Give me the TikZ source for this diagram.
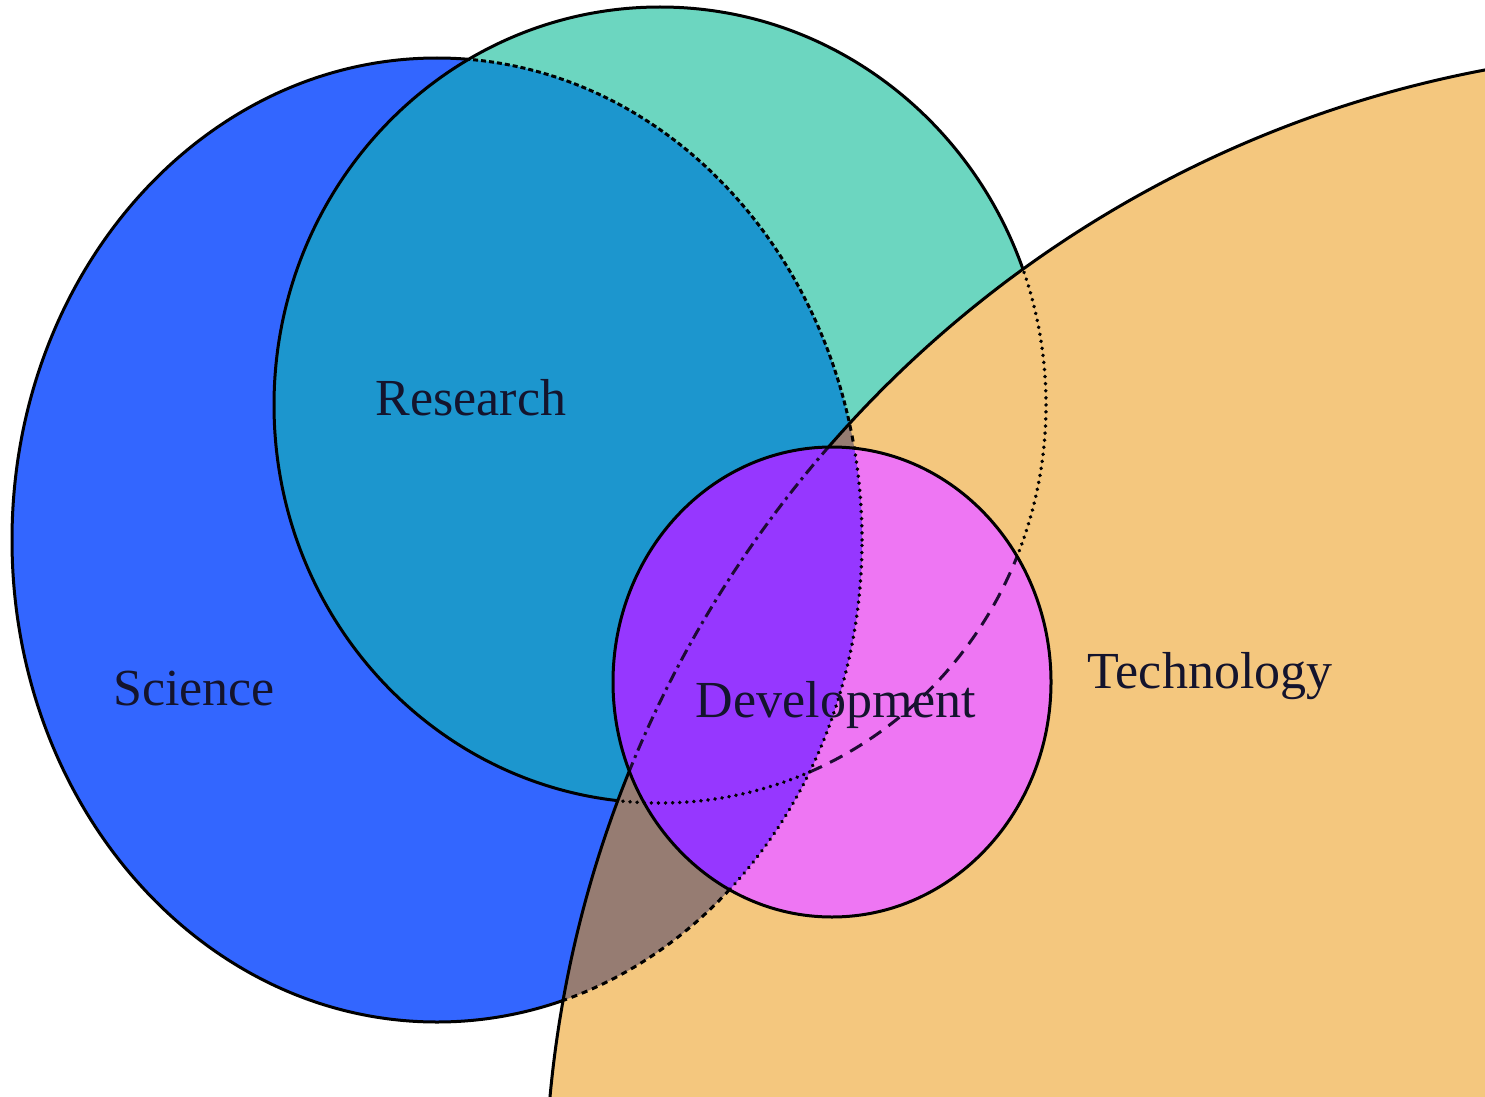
\documentclass[tikz,border=0pt]{standalone}
\usepackage{fontspec}
\setmainfont{Liberation Serif}
\definecolor{sciblue}{RGB}{51,102,255}
\definecolor{resmid}{RGB}{28,150,206}
\definecolor{reslight}{RGB}{108,214,192}
\definecolor{techtan}{RGB}{244,199,126}
\definecolor{brownmix}{RGB}{150,124,114}
\definecolor{devpurple}{RGB}{150,55,255}
\definecolor{devpink}{RGB}{238,118,243}
\definecolor{labelink}{RGB}{20,20,45}
\begin{document}
\begin{tikzpicture}[x=1pt,y=-1pt,
  sci/.style={insert path={(437,540) ellipse [x radius=425pt, y radius=482pt]}},
  res/.style={insert path={(660,405) ellipse [x radius=386pt, y radius=398pt]}},
  tec/.style={insert path={(1700,1205) circle [radius=1155pt]}},
  dev/.style={insert path={(832,682) ellipse [x radius=219pt, y radius=235pt]}},
  outline/.style={draw=black, line width=3pt},
  finedash/.style={draw=black, line width=3pt, dash pattern=on 5pt off 3pt},
  meddash/.style={draw=black, line width=3pt, dash pattern=on 6pt off 5pt},
  dotline/.style={draw=black, line width=3.8pt, line cap=round, dash pattern=on 0.1pt off 7pt},
  longdash/.style={draw=black!80!devpurple, line width=3pt, dash pattern=on 14pt off 9pt},
  dashdotline/.style={draw=black!80!devpurple, line width=3pt, dash pattern=on 12pt off 5pt on 3pt off 5pt},
  lbl/.style={anchor=base, inner sep=0pt, text=labelink, font=\fontsize{52}{62}\selectfont}
]
\useasboundingbox (0,0) rectangle (1485,1097);
\clip (0,0) rectangle (1485,1097);
\fill[white] (0,0) rectangle (1485,1097);

% Science
\fill[sciblue, sci];
\draw[outline, sci];

% Research
\fill[reslight, res];
\begin{scope}
  \clip[sci];
  \fill[resmid, res];
\end{scope}
\begin{scope}
  \clip[res];
  \draw[finedash, sci];
\end{scope}
\draw[outline, res];

% Technology
\fill[techtan, tec];
\begin{scope}
  \clip[sci];
  \fill[brownmix, tec];
\end{scope}
\begin{scope}
  \clip[tec];
  \draw[dotline, res];
  \draw[meddash, sci];
\end{scope}
\draw[outline, tec];

% Development
\fill[devpink, dev];
\begin{scope}
  \clip[dev];
  \draw[longdash, res];
  \draw[dashdotline, tec];
\end{scope}
\begin{scope}
  \clip[sci];
  \fill[devpurple, dev];
\end{scope}
\begin{scope}
  \clip[sci];
  \clip[dev];
  \draw[dotline, res];
  \draw[dashdotline, tec];
\end{scope}
\begin{scope}
  \clip[dev];
  \draw[dotline, sci];
\end{scope}
\draw[outline, dev];

% Labels
\node[lbl] (research) at (471,415) {Research};
\node[lbl] (science) at (194,705) {Science};
\node[lbl] (development) at (836,717) {Development};
\node[lbl] (technology) at (1210,688) {Technology};
\end{tikzpicture}
\end{document}
